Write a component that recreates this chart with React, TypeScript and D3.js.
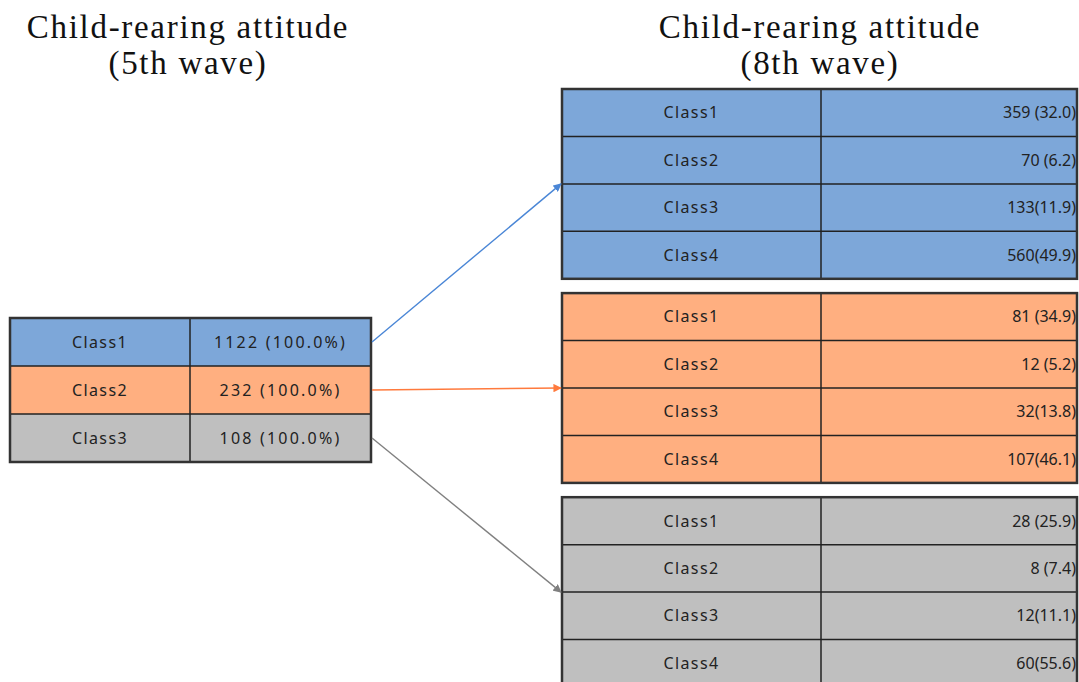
import React from "react";
import * as d3 from "d3";

// 5th wave classes (source)
const waveFiveClasses = ["Class1", "Class2", "Class3"];
const waveFiveCounts = [1122, 232, 108];
const waveFivePcts = [100.0, 100.0, 100.0];

// 8th wave classes, one group per 5th wave class
const waveEightClasses = ["Class1", "Class2", "Class3", "Class4"];
const waveEightCounts = [
  [359, 70, 133, 560],
  [81, 12, 32, 107],
  [28, 8, 12, 60],
];
const waveEightPcts = [
  [32.0, 6.2, 11.9, 49.9],
  [34.9, 5.2, 13.8, 46.1],
  [25.9, 7.4, 11.1, 55.6],
];
// the source table puts a space before the bracket in the first two rows only
const pctSep = [" ", " ", "", ""];

const fills = ["#7da7d9", "#ffaf80", "#bfbfbf"];
const arrowColors = ["#4a86d6", "#ff7a3d", "#808080"];

const W = 1079;
const H = 682;
const cellFont = "'Noto Sans', 'DejaVu Sans', sans-serif";
const titleFont = "'Liberation Serif', 'DejaVu Serif', serif";

export default function App() {
  // left table
  const leftX = [10, 190, 371];
  const leftY = d3.scaleBand().domain(waveFiveClasses).range([318, 462]);

  // right tables
  const rightX = [562, 821, 1077];
  const groupY = d3
    .scaleBand<number>()
    .domain([0, 1, 2])
    .range([89, 687])
    .paddingInner(0.07);
  const rowY = d3
    .scaleBand()
    .domain(waveEightClasses)
    .range([0, groupY.bandwidth()]);

  const fmt = d3.format(".1f");

  return (
    <svg
      width={W}
      height={H}
      style={{ position: "absolute", left: 0, top: 0, background: "#fff" }}
    >
      <defs>
        {arrowColors.map((c, i) => (
          <marker
            key={i}
            id={"arrow" + i}
            viewBox="0 0 10 10"
            refX={9}
            refY={5}
            markerWidth={6}
            markerHeight={6}
            orient="auto"
          >
            <path d="M0,0 L10,5 L0,10 z" fill={c} />
          </marker>
        ))}
      </defs>

      {/* titles */}
      <g fontFamily={titleFont} fontSize={33} fill="#111" textAnchor="middle" letterSpacing={1.7}>
        <text x={188} y={38}>Child-rearing attitude</text>
        <text x={188} y={74}>(5th wave)</text>
        <text x={820} y={38}>Child-rearing attitude</text>
        <text x={820} y={74}>(8th wave)</text>
      </g>

      {/* left table */}
      <g fontFamily={cellFont} fontSize={16} fill="#222">
        {waveFiveClasses.map((c, i) => {
          const y = leftY(c)!;
          const h = leftY.bandwidth();
          return (
            <g key={c}>
              <rect x={leftX[0]} y={y} width={leftX[2] - leftX[0]} height={h} fill={fills[i]} />
              <text x={(leftX[0] + leftX[1]) / 2} y={y + h / 2} dy="0.35em" textAnchor="middle" letterSpacing={1.4}>
                {c}
              </text>
              <text x={(leftX[1] + leftX[2]) / 2} y={y + h / 2} dy="0.35em" textAnchor="middle" letterSpacing={2.2}>
                {waveFiveCounts[i] + " (" + fmt(waveFivePcts[i]) + "%)"}
              </text>
              <line x1={leftX[0]} x2={leftX[2]} y1={y} y2={y} stroke="#222" strokeWidth={1.5} />
            </g>
          );
        })}
        <line x1={leftX[1]} x2={leftX[1]} y1={318} y2={462} stroke="#222" strokeWidth={1.5} />
        <rect x={leftX[0]} y={318} width={leftX[2] - leftX[0]} height={144} fill="none" stroke="#333" strokeWidth={2.5} />
      </g>

      {/* right tables */}
      {waveEightCounts.map((counts, g) => {
        const top = groupY(g)!;
        const bh = groupY.bandwidth();
        return (
          <g key={g} fontFamily={cellFont} fontSize={16} fill="#222">
            <rect x={rightX[0]} y={top} width={rightX[2] - rightX[0]} height={bh} fill={fills[g]} />
            {waveEightClasses.map((c, r) => {
              const y = top + rowY(c)!;
              const h = rowY.bandwidth();
              return (
                <g key={c}>
                  <line x1={rightX[0]} x2={rightX[2]} y1={y} y2={y} stroke="#222" strokeWidth={1.5} />
                  <text x={(rightX[0] + rightX[1]) / 2} y={y + h / 2} dy="0.35em" textAnchor="middle" letterSpacing={1.4}>
                    {c}
                  </text>
                  <text x={rightX[2] - 1} y={y + h / 2} dy="0.35em" textAnchor="end">
                    {counts[r] + pctSep[r] + "(" + fmt(waveEightPcts[g][r]) + ")"}
                  </text>
                </g>
              );
            })}
            <line x1={rightX[1]} x2={rightX[1]} y1={top} y2={top + bh} stroke="#222" strokeWidth={1.5} />
            <rect x={rightX[0]} y={top} width={rightX[2] - rightX[0]} height={bh} fill="none" stroke="#333" strokeWidth={2.5} />
          </g>
        );
      })}

      {/* arrows from each 5th wave class to its 8th wave table */}
      {waveFiveClasses.map((c, i) => {
        const y0 = leftY(c)! + leftY.bandwidth() / 2;
        const y1 = groupY(i)! + rowY("Class3")!;
        return (
          <line
            key={c}
            x1={leftX[2] + 1}
            y1={y0}
            x2={rightX[0] - 1}
            y2={y1}
            stroke={arrowColors[i]}
            strokeWidth={1.4}
            markerEnd={`url(#arrow${i})`}
          />
        );
      })}
    </svg>
  );
}
